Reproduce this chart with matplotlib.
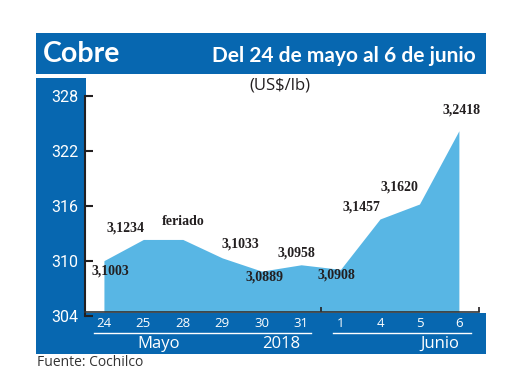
import numpy as np
import matplotlib.pyplot as plt
from matplotlib.patches import Rectangle
from matplotlib.lines import Line2D

# datos (US$/lb), el 28 fue feriado
fechas = ['24', '25', '28', '29', '30', '31', '1', '4', '5', '6']
precio = [3.1003, 3.1234, None, 3.1033, 3.0889, 3.0958, 3.0908, 3.1457, 3.1620, 3.2418]
etiquetas = ['3,1003', '3,1234', 'feriado', '3,1033', '3,0889',
             '3,0958', '3,0908', '3,1457', '3,1620', '3,2418']
yticks = [304, 310, 316, 322, 328]
meses = ['Mayo', '2018', 'Junio']

AZUL = '#0767B0'
CELESTE = '#58B6E4'
NEGRO = '#231F20'
W, H = 520, 390

# el feriado repite el valor anterior
serie = []
ultimo = None
for p in precio:
    if p is None:
        p = ultimo
    serie.append(p * 100)
    ultimo = p
x = np.arange(len(fechas))

def fx(px):
    return px / W

def fy(py):
    return 1 - py / H

fig = plt.figure(figsize=(W / 100, H / 100), dpi=100)

# fondos azules
def rect(x0, y0, x1, y1):
    r = Rectangle((fx(x0), fy(y1)), fx(x1) - fx(x0), fy(y0) - fy(y1),
                  transform=fig.transFigure, facecolor=AZUL, edgecolor='none', zorder=-1)
    fig.patches.append(r)

rect(36, 33, 486, 74)
rect(36, 78, 86, 354)
rect(36, 313, 486, 354)

ax = fig.add_axes([fx(85), fy(316), fx(479) - fx(85), fy(95.7) - fy(316)])
ax.patch.set_alpha(0)
base = 304.44
ax.fill_between(x, base, serie, color=CELESTE, lw=0, zorder=1)
ax.set_xlim(-0.48, 9.51)
ax.set_ylim(304, 328)

for s in ['top', 'right']:
    ax.spines[s].set_visible(False)
ax.spines['left'].set_color(NEGRO)
ax.spines['left'].set_linewidth(1.5)
ax.spines['bottom'].set_color('#333333')
ax.spines['bottom'].set_linewidth(1.2)
ax.spines['bottom'].set_position(('data', base))

ax.set_yticks(yticks)
ax.tick_params(axis='y', direction='in', length=6, width=1.5, color=NEGRO,
               labelcolor='white', labelsize=11.5, pad=5)
for t in ax.get_yticklabels():
    t.set_fontfamily('Roboto')

ax.set_xticks(x, fechas)
ax.tick_params(axis='x', length=0, labelcolor='white', labelsize=9.5, pad=3.5)
for t in ax.get_xticklabels():
    t.set_fontfamily('Open Sans')
ax.set_xticks([5.5, 9.5], minor=True)
ax.tick_params(axis='x', which='minor', direction='in', length=3.5, width=1.2, color=NEGRO)

# etiquetas de valores
offs = [(6, -10), (-18, 11), (0, 18), (18, 14), (3, -6),
        (-5, 12), (-4, -6), (-19, 12), (-20, 17), (3, 21)]
for i, lab in enumerate(etiquetas):
    ax.annotate(lab, (x[i], serie[i]), xytext=offs[i], textcoords='offset pixels',
                ha='center', va='center', fontsize=10, fontweight='bold',
                family='Liberation Serif', color=NEGRO, zorder=3)

# titulos
fig.text(fx(43), fy(62), 'Cobre', color='white', fontsize=20.5, fontweight='bold',
         family='Lato', va='baseline', ha='left')
fig.text(fx(476), fy(62), 'Del 24 de mayo al 6 de junio', color='white', fontsize=15,
         fontweight='bold', family='Lato', va='baseline', ha='right')
fig.text(fx(280), fy(86), '(US$/lb)', color=NEGRO, fontsize=12, family='Open Sans',
         ha='center', va='center')

# meses
fig.add_artist(Line2D([fx(94), fx(311)], [fy(333), fy(333)], color='white', lw=1))
fig.add_artist(Line2D([fx(333), fx(471)], [fy(333), fy(333)], color='white', lw=1))
for m, px in zip(meses, [159, 281, 440]):
    fig.text(fx(px), fy(344), m, color='white', fontsize=12, family='Open Sans',
             ha='center', va='center')

fig.text(fx(37), fy(362), 'Fuente: Cochilco', color='#333333', fontsize=10,
         family='Open Sans', ha='left', va='center')

fig.savefig('out.png', dpi=100)
